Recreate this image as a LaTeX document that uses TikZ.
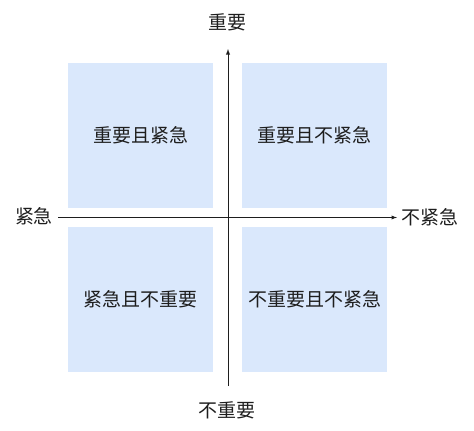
\documentclass[tikz,border=0pt]{standalone}
\usepackage{fontspec}
\usepackage{xcolor}
\usepackage{tikz}
\newfontfamily\cjk{Noto Sans CJK SC}
\definecolor{quadblue}{HTML}{DAE8FC}
\definecolor{inkgray}{HTML}{1E1E1E}

\begin{document}
\begin{tikzpicture}[x=1pt, y=-1pt,
        quad/.style={rectangle, fill=quadblue, minimum width=145pt, minimum height=145pt, inner sep=0pt, text=inkgray, font=\cjk\fontsize{19}{22}\selectfont},
        axislabel/.style={inner sep=0pt, text=inkgray, font=\cjk\fontsize{19}{22}\selectfont},
        axis/.style={draw=inkgray, line width=0.9pt, -latex}
    ]

        % Canvas
        \useasboundingbox (0,0) rectangle (474,431);

        % Quadrants
        \node[quad] (q1) at (140.5,135.5) {重要且紧急};
        \node[quad] (q2) at (314.5,135.5) {重要且不紧急};
        \node[quad] (q3) at (140.5,299.5) {紧急且不重要};
        \node[quad] (q4) at (314.5,299.5) {不重要且不紧急};

        % Axis labels
        \node[axislabel] (important) at (227,22) {重要};
        \node[axislabel] (unimportant) at (227,410) {不重要};
        \node[axislabel] (urgent) at (34,216) {紧急};
        \node[axislabel] (noturgent) at (430,217) {不紧急};

        % Axis ends
        \coordinate (vbottom) at (228,386);
        \coordinate (vtop) at (228,49);
        \coordinate (hleft) at (58,217.5);
        \coordinate (hright) at (397,217.5);

        % Axes
        \draw[axis] (vbottom) -- (vtop);
        \draw[axis] (hleft) -- (hright);

    \end{tikzpicture}
\end{document}
